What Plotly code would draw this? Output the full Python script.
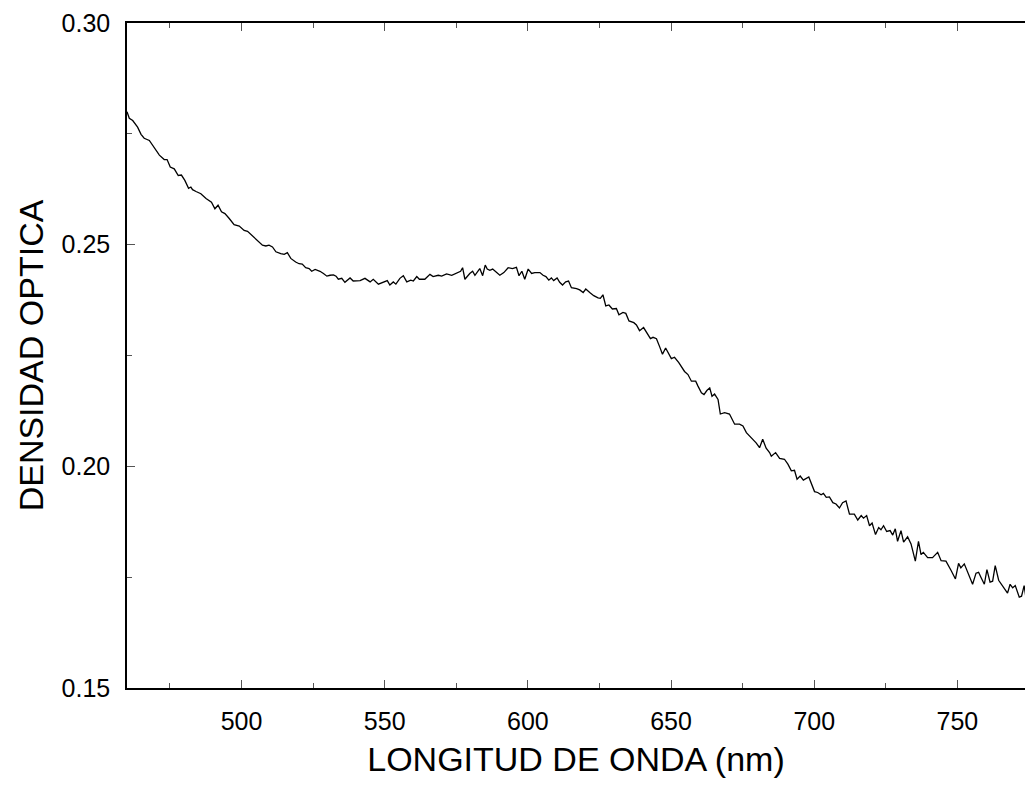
import plotly.graph_objects as go

# espectro de absorcion
longitud = [460.0, 460.8, 462.0, 463.7, 464.9, 466.0, 467.8, 469.5, 471.3, 473.0,
            474.0, 475.1, 476.5, 477.9, 479.0, 480.2, 481.5, 482.3, 482.9, 484.1,
            485.8, 487.6, 489.5, 490.7, 491.8, 493.0, 494.2, 495.7, 497.4, 499.2,
            500.9, 502.1, 503.8, 505.6, 507.3, 508.5, 509.6, 510.8, 512.0, 513.7,
            514.9, 516.0, 517.2, 518.9, 520.1, 521.2, 522.4, 523.6,
            524.5, 525.7, 527.4, 528.6, 529.8, 530.9, 532.1, 533.0, 533.8, 535.0,
            536.1, 537.9, 539.0, 541.4, 543.1, 544.9, 546.0, 547.8, 549.5, 550.9,
            551.8, 553.0, 553.9, 555.3, 556.5, 557.7, 559.1, 560.0, 561.2, 562.1,
            564.0, 565.8, 566.9, 568.7, 569.9, 571.6, 573.4, 575.1, 576.5, 577.2,
            578.0, 579.7, 580.7, 581.5, 583.2, 584.2, 585.1, 585.8, 586.7,
            587.7, 590.2, 591.6, 593.1, 594.6, 596.0, 596.9, 597.9, 598.9, 600.1,
            601.3, 602.4, 604.2, 605.3, 606.3, 607.3, 608.2, 609.0, 610.2, 611.1,
            612.1, 613.2, 614.2, 615.2, 617.0, 618.1, 619.3, 620.2, 621.6, 623.0,
            624.5, 625.3, 626.2, 627.2, 628.3, 629.5, 630.9, 631.8, 633.2, 634.2,
            635.3, 637.0, 637.9, 639.0, 640.4, 641.4, 642.8, 643.7, 644.9, 646.0,
            647.0, 648.1, 649.3, 650.1, 651.2, 652.7,
            654.7, 655.9, 657.1, 658.6, 659.4, 660.6, 661.5, 662.5, 663.5, 664.3,
            665.2, 666.4, 667.2, 668.7, 670.4, 672.2, 673.9, 675.1, 676.3, 678.0,
            679.7, 680.9, 682.0, 683.2, 684.4, 685.0, 686.5, 687.9, 689.6, 690.8,
            692.0, 693.1, 694.0, 695.1, 696.2, 698.1, 699.3, 700.1, 701.2, 702.4,
            703.2, 704.2, 705.3, 706.5, 707.6, 708.8, 709.9, 711.1,
            712.3, 714.0, 715.2, 716.4, 717.2, 718.3, 719.3, 720.2, 721.4, 722.5,
            723.3, 724.2, 725.3, 726.5, 727.4, 728.3, 729.1, 730.3, 731.2, 732.6,
            733.8, 735.3, 736.4, 737.3, 738.1, 739.6, 741.3, 743.1, 744.3, 746.0,
            747.8, 749.3, 750.4, 751.2, 752.4, 753.9, 755.3, 756.5, 757.4, 758.2,
            759.4, 760.3, 761.4, 762.3, 763.2, 764.4, 766.0, 767.5, 768.4, 769.3,
            770.2, 771.6, 772.4, 773.3, 774.4, 775.7]

densidad = [0.2800, 0.2785, 0.2780, 0.2765, 0.2749, 0.2740, 0.2735, 0.2720, 0.2702, 0.2692,
            0.2692, 0.2675, 0.2671, 0.2656, 0.2657, 0.2645, 0.2627, 0.2630, 0.2624, 0.2620,
            0.2615, 0.2604, 0.2596, 0.2581, 0.2589, 0.2574, 0.2570, 0.2559, 0.2545, 0.2542,
            0.2532, 0.2530, 0.2520, 0.2508, 0.2499, 0.2497, 0.2499, 0.2495, 0.2484, 0.2480,
            0.2478, 0.2482, 0.2469, 0.2461, 0.2457, 0.2456, 0.2448, 0.2446,
            0.2440, 0.2444, 0.2440, 0.2435, 0.2429, 0.2431, 0.2432, 0.2429, 0.2422, 0.2424,
            0.2415, 0.2425, 0.2418, 0.2419, 0.2424, 0.2416, 0.2422, 0.2411, 0.2416, 0.2419,
            0.2409, 0.2416, 0.2411, 0.2424, 0.2430, 0.2416, 0.2420, 0.2418, 0.2428, 0.2422,
            0.2422, 0.2433, 0.2428, 0.2431, 0.2429, 0.2434, 0.2431, 0.2435, 0.2440, 0.2448,
            0.2422, 0.2435, 0.2440, 0.2431, 0.2446, 0.2430, 0.2454, 0.2445, 0.2442,
            0.2445, 0.2431, 0.2437, 0.2448, 0.2446, 0.2449, 0.2430, 0.2440, 0.2422, 0.2445,
            0.2435, 0.2437, 0.2437, 0.2431, 0.2428, 0.2420, 0.2425, 0.2419, 0.2425, 0.2415,
            0.2409, 0.2416, 0.2418, 0.2403, 0.2401, 0.2398, 0.2392, 0.2400, 0.2392, 0.2385,
            0.2380, 0.2379, 0.2387, 0.2362, 0.2364, 0.2355, 0.2356, 0.2342, 0.2347, 0.2345,
            0.2328, 0.2324, 0.2319, 0.2306, 0.2313, 0.2302, 0.2288, 0.2291, 0.2288, 0.2270,
            0.2253, 0.2267, 0.2252, 0.2243, 0.2246, 0.2234,
            0.2214, 0.2207, 0.2192, 0.2192, 0.2181, 0.2166, 0.2162, 0.2171, 0.2177, 0.2158,
            0.2163, 0.2151, 0.2118, 0.2121, 0.2118, 0.2095, 0.2095, 0.2091, 0.2076, 0.2064,
            0.2053, 0.2042, 0.2061, 0.2041, 0.2031, 0.2023, 0.2031, 0.2018, 0.2016, 0.2005,
            0.1990, 0.1991, 0.1971, 0.1978, 0.1969, 0.1976, 0.1956, 0.1943, 0.1941, 0.1936,
            0.1939, 0.1930, 0.1931, 0.1918, 0.1915, 0.1906, 0.1918, 0.1922,
            0.1892, 0.1892, 0.1879, 0.1889, 0.1883, 0.1889, 0.1866, 0.1872, 0.1846, 0.1862,
            0.1857, 0.1866, 0.1853, 0.1855, 0.1845, 0.1859, 0.1831, 0.1855, 0.1829, 0.1841,
            0.1825, 0.1786, 0.1831, 0.1801, 0.1806, 0.1794, 0.1794, 0.1806, 0.1787, 0.1786,
            0.1765, 0.1746, 0.1781, 0.1771, 0.1780, 0.1754, 0.1734, 0.1759, 0.1761, 0.1750,
            0.1734, 0.1767, 0.1739, 0.1741, 0.1776, 0.1743, 0.1728, 0.1714, 0.1734, 0.1726,
            0.1731, 0.1705, 0.1707, 0.1731, 0.1683, 0.1704]

fig = go.Figure()
fig.add_trace(go.Scatter(x=longitud, y=densidad, mode="lines",
                         line=dict(color="black", width=1.3),
                         showlegend=False, hoverinfo="skip"))

fuente = "Liberation Sans, Arial, sans-serif"

# la pagina deja 8 px de margen alrededor de la figura
fig.update_layout(
    width=1017, height=770,
    margin=dict(l=119, r=0, t=15, b=90),
    plot_bgcolor="white", paper_bgcolor="white",
    font=dict(family=fuente, color="black", size=25),
    xaxis=dict(
        range=[460, 773.6], automargin=False,
        tickmode="array", tickvals=[500, 550, 600, 650, 700, 750],
        ticks="inside", ticklen=8, tickwidth=1, tickcolor="#555",
        minor=dict(tickmode="array", tickvals=[475, 525, 575, 625, 675, 725],
                   ticks="inside", ticklen=5, tickcolor="#555"),
        showline=True, linecolor="black", linewidth=1.5, mirror="ticks",
        showgrid=False, zeroline=False,
        tickfont=dict(size=25), ticklabelstandoff=10,
        title=dict(text="LONGITUD DE ONDA (nm)", font=dict(size=34), standoff=20),
    ),
    yaxis=dict(
        range=[0.15, 0.30], automargin=False,
        tickmode="array", tickvals=[0.15, 0.20, 0.25, 0.30],
        ticktext=["0.15", "0.20", "0.25", "0.30"],
        ticks="inside", ticklen=8, tickwidth=1, tickcolor="#555",
        minor=dict(tickmode="array", tickvals=[0.175, 0.225, 0.275],
                   ticks="inside", ticklen=5, tickcolor="#555"),
        showline=True, linecolor="black", linewidth=1.5, mirror=False,
        showgrid=False, zeroline=False,
        tickfont=dict(size=25), ticklabelstandoff=10, ticklabeloverflow="allow",
        title=dict(text="DENSIDAD OPTICA", font=dict(size=34), standoff=8),
    ),
)

fig.write_html("out.html")
